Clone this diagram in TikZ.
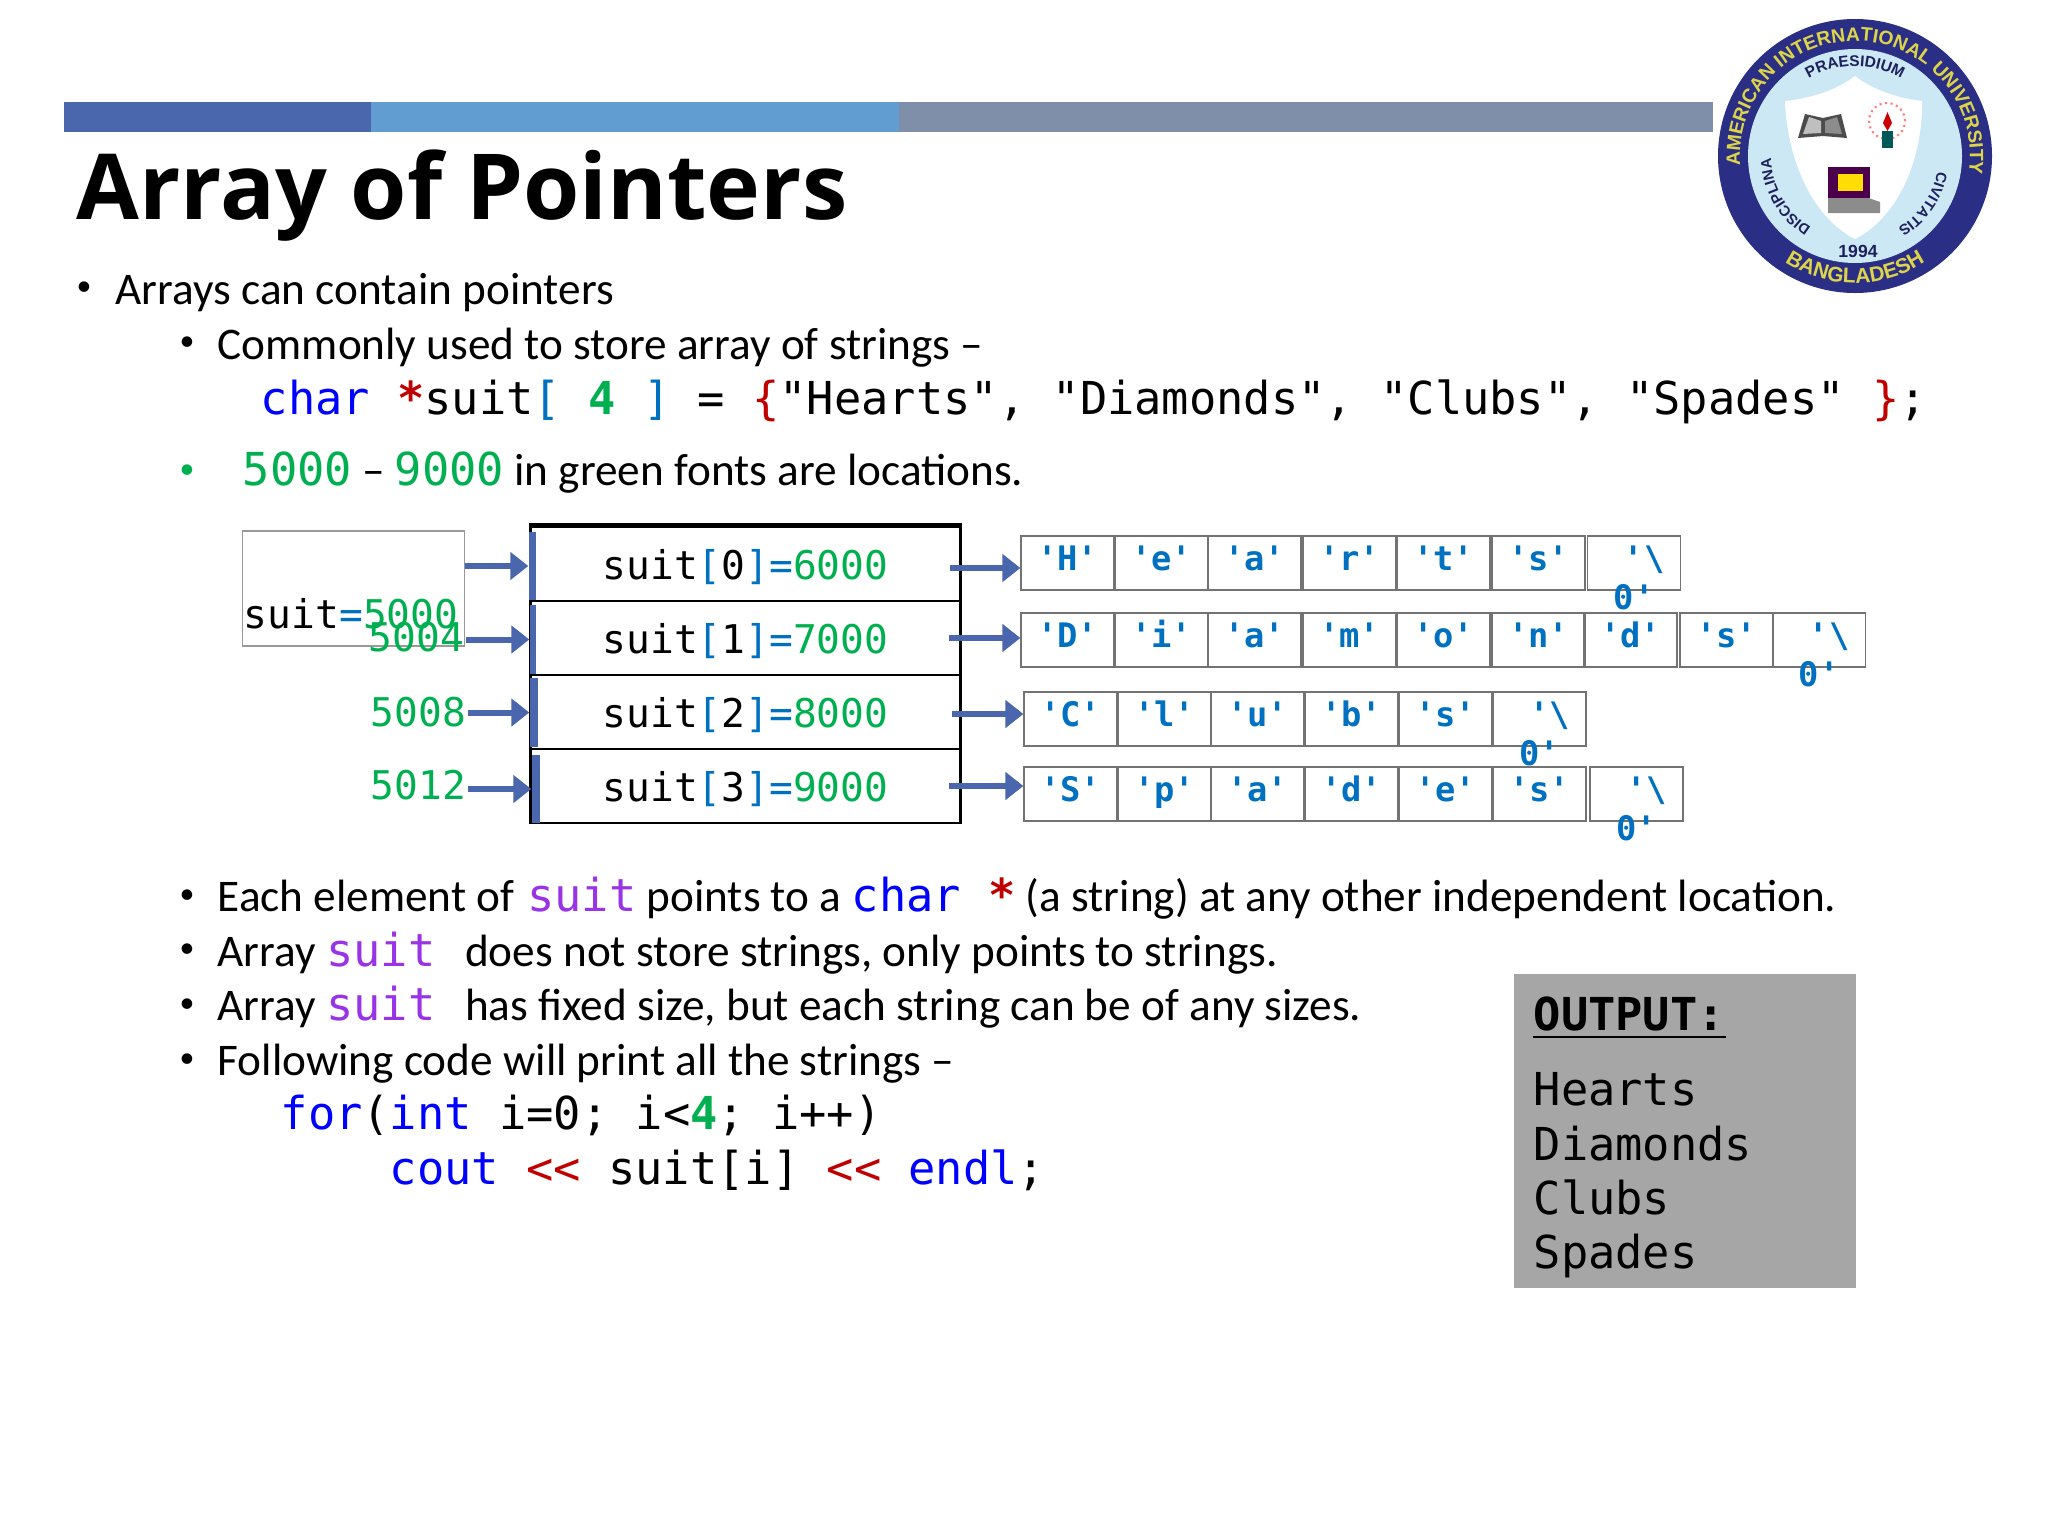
\documentclass[tikz,border=0pt]{standalone}
\usepackage{fontspec}
\setmainfont{Carlito}
\setmonofont{DejaVu Sans Mono}
\newfontfamily\titlefont{Open Sans}
\newfontfamily\sealfont{Liberation Sans}
\usetikzlibrary{arrows.meta,decorations.text}
\definecolor{barone}{HTML}{4A66AC}
\definecolor{bartwo}{HTML}{629DD1}
\definecolor{barthree}{HTML}{7F8FA9}
\definecolor{locgreen}{HTML}{00B050}
\definecolor{brblue}{HTML}{0070C0}
\definecolor{kwblue}{HTML}{0000FF}
\definecolor{opred}{HTML}{C00000}
\definecolor{sparple}{HTML}{9933E6}
\definecolor{sealblue}{HTML}{2A2E85}
\definecolor{sealsky}{HTML}{CCE8F5}
\definecolor{sealgold}{HTML}{DDD44A}
\newcommand{\code}[1]{{\fontsize{12.9}{15}\selectfont\ttfamily #1}}
\newcommand{\loc}[1]{\textcolor{locgreen}{#1}}
\newcommand{\kw}[1]{\textcolor{kwblue}{#1}}
\newcommand{\br}[1]{\textcolor{brblue}{#1}}
\newcommand{\op}[1]{\textcolor{opred}{#1}}
\newcommand{\suitname}{\textcolor{sparple}{suit}}
\newcommand{\nulchar}{\vtop{\baselineskip=11.2pt\hbox to .93cm{\hfil\phantom{x}'\textbackslash\hfil}\hbox to .93cm{\hfil 0'\hfil}}}
\tikzset{
  body/.style={anchor=base west,inner sep=0pt,font=\fontsize{12.87}{15}\selectfont},
  codeline/.style={anchor=base west,inner sep=0pt,font=\fontsize{12.9}{15}\selectfont\ttfamily},
  dot/.style={anchor=base,inner sep=0pt,font=\fontsize{8.5}{10}\selectfont},
  ptr/.style={-{Triangle[length=5.1pt,width=7.7pt]},barone,line width=1.7pt},
  arrcell/.style={draw=black,line width=.8pt,minimum width=4.29cm,minimum height=.74cm,inner sep=0pt,
    text height=11.4pt,text depth=2.85pt,font=\fontsize{11.25}{13}\selectfont\ttfamily},
  addr/.style={anchor=east,inner sep=0pt,inner xsep=.4pt,text=locgreen,font=\fontsize{11.25}{13}\selectfont\ttfamily},
  arrbar/.style={fill=barone,inner sep=0pt},
  charcell/.style={draw=black!55,line width=.35pt,minimum width=.93cm,minimum height=.54cm,inner sep=0pt,
    text height=9.67pt,text depth=5.69pt,text=brblue,font=\fontsize{9.6}{11.2}\selectfont\ttfamily\bfseries},
  sealtext/.style={decorate,decoration={text along path,text align=center,text={#1}}}
}
\begin{document}
\begin{tikzpicture}[x=.01cm,y=-.01cm]
  \useasboundingbox (0,0) rectangle (2048,1536);
  % header bars
  \fill[barone] (64,102) rectangle (371,132);
  \fill[bartwo] (371,102) rectangle (899,132);
  \fill[barthree] (899,102) rectangle (1713,132);
  \node[anchor=base west,inner sep=0pt,font=\fontsize{25.9}{30}\selectfont\titlefont\bfseries] (title) at (76,219) {Array of Pointers};

  % bullets on top
  \node[dot] (d1) at (84,295) {•};
  \node[body] (t1) at (115,304) {Arrays can contain pointers};
  \node[dot] (d2) at (187,350) {•};
  \node[body] (t2) at (217,359) {Commonly used to store array of strings –};
  \node[codeline] (t3) at (260,414) {\kw{char} \op{\textbf{*}}suit\br{[} \loc{\textbf{4}} \br{]} = \op{\{}"Hearts", "Diamonds", "Clubs", "Spades" \op{\}};};
  \node[dot,text=locgreen] (d3) at (187,478) {•};
  \node[body] (t4) at (242,485) {\code{\loc{5000}} – \code{\loc{9000}} in green fonts are locations.};

  % suit and the pointer array
  \node[draw=black!40,line width=.35pt,minimum height=1.15cm,inner sep=0pt,inner xsep=.3pt,text width=2.19cm,align=left,
    text height=27.6pt,text depth=5.1pt,font=\fontsize{11.25}{13}\selectfont\ttfamily] (suitbox) at (353.5,588.5) {suit\br{=}\loc{5000}};
  \node[arrcell] (cell0) at (745.5,564) {suit\br{[}0\br{]=}\loc{6000}};
  \node[arrcell] (cell1) at (745.5,638) {suit\br{[}1\br{]=}\loc{7000}};
  \node[arrcell] (cell2) at (745.5,712) {suit\br{[}2\br{]=}\loc{8000}};
  \node[arrcell] (cell3) at (745.5,786) {suit\br{[}3\br{]=}\loc{9000}};
  \draw[line width=1.3pt] (cell0.north west) -- (cell0.north east);

  \node[arrbar,minimum width=.07cm,minimum height=.68cm] (bar0) at (532.5,566) {};
  \node[arrbar,minimum width=.06cm,minimum height=.68cm] (bar1) at (533,639.5) {};
  \node[arrbar,minimum width=.08cm,minimum height=.69cm] (bar2) at (534,712.5) {};
  \node[arrbar,minimum width=.08cm,minimum height=.68cm] (bar3) at (536,789) {};

  \node[addr] (addr1) at (466,637) {5004};
  \node[addr] (addr2) at (468,712) {5008};
  \node[addr] (addr3) at (468,785) {5012};

  \draw[ptr] (suitbox.east |- bar0.west) -- (bar0.west);
  \draw[ptr] (addr1.east |- bar1.west) -- (bar1.west);
  \draw[ptr] (addr2.east |- bar2.west) -- (bar2.west);
  \draw[ptr] (addr3.east |- bar3.west) -- (bar3.west);

  % the strings
  \foreach \px/\ch [count=\i] in {1021/H,1115/e,1208/a,1303/r,1397/t,1492/s}
    \node[charcell] (h\i) at (\px+46.5,563) {'\ch'};
  \node[charcell] (h7) at (1634,563) {\nulchar};
  \foreach \px/\ch [count=\i] in {1021/D,1115/i,1208/a,1303/m,1397/o,1492/n,1584/d,1680/s}
    \node[charcell] (d\i) at (\px+46.5,640) {'\ch'};
  \node[charcell] (d9) at (1819,640) {\nulchar};
  \foreach \px/\ch [count=\i] in {1024/C,1118/l,1211/u,1305/b,1399/s}
    \node[charcell] (c\i) at (\px+46.5,719) {'\ch'};
  \node[charcell] (c6) at (1539.5,719) {\nulchar};
  \foreach \px/\ch [count=\i] in {1024/S,1118/p,1211/a,1305/d,1399/e,1493/s}
    \node[charcell] (s\i) at (\px+46.5,794) {'\ch'};
  \node[charcell] (s7) at (1636.5,794) {\nulchar};

  \coordinate (out0) at (950,568);
  \coordinate (out1) at (949,638);
  \coordinate (out2) at (952,714);
  \coordinate (out3) at (949,786);
  \draw[ptr] (out0) -- (out0 -| h1.west);
  \draw[ptr] (out1) -- (out1 -| d1.west);
  \draw[ptr] (out2) -- (out2 -| c1.west);
  \draw[ptr] (out3) -- (out3 -| s1.west);

  % bullets below
  \node[dot] (d4) at (187,903) {•};
  \node[body] (t5) at (217,911) {Each element of\hspace{.7pt} \code{\suitname} points to a \code{\kw{char} \op{\textbf{*}}} (a string) at any other independent location.};
  \node[dot] (d5) at (187,957) {•};
  \node[body] (t6) at (217,966) {Array \code{\suitname}\hspace{8.5pt}does not store strings, only points to strings.};
  \node[dot] (d6) at (187,1012) {•};
  \node[body] (t7) at (217,1020) {Array \code{\suitname}\hspace{8.5pt}has fixed size, but each string can be of any sizes.};
  \node[dot] (d7) at (187,1067) {•};
  \node[body] (t8) at (217,1075) {Following code will print all the strings –};
  \node[codeline] (t9) at (280,1129) {\kw{for}(\kw{int} i=0; i<\loc{\textbf{4}}; i++)};
  \node[codeline] (t10) at (389,1184) {\kw{cout} \op{<<} suit[i] \op{<<} \kw{endl};};

  % output box
  \fill[black!35] (1514,974) rectangle (1856,1288);
  \node[codeline] (o0) at (1533,1030) {\textbf{OUTPUT:}};
  \draw[line width=.6pt] ([yshift=-2pt]o0.base west) -- ([yshift=-2pt]o0.base east);
  \node[codeline] (o1) at (1533,1105) {Hearts};
  \node[codeline] (o2) at (1533,1160) {Diamonds};
  \node[codeline] (o3) at (1533,1214) {Clubs};
  \node[codeline] (o4) at (1533,1268) {Spades};

  % seal
  \begin{scope}[shift={(1855,156)},x=.01cm,y=.01cm]
    \fill[sealblue] (0,0) circle (137);
    \fill[sealsky] (0,0) circle (107);
    \fill[white] (0,80) .. controls (-15,68) and (-40,58) .. (-70,55) .. controls (-68,0) and (-45,-60) .. (0,-83)
      .. controls (45,-60) and (68,0) .. (67,55) .. controls (40,58) and (15,68) .. (0,80);
    \path[sealtext={|\fontsize{5.5}{6}\sealfont\bfseries\color{sealgold}|AMERICAN INTERNATIONAL UNIVERSITY}] (186:115) arc (186:-10:115);
    \path[sealtext={|\fontsize{6}{7}\sealfont\bfseries\color{sealgold}|BANGLADESH}] (234:127) arc (234:306:127);
    \path[sealtext={|\fontsize{4.4}{5}\sealfont\bfseries\color{sealblue!70!black}|PRAESIDIUM}] (124:90) arc (124:56:90);
    \path[sealtext={|\fontsize{4.2}{5}\sealfont\bfseries\color{sealblue!70!black}|DISCIPLINA}] (242:84) arc (242:178:84);
    \path[sealtext={|\fontsize{4.2}{5}\sealfont\bfseries\color{sealblue!70!black}|CIVITATIS}] (-6:84) arc (-6:-64:84);
    \node[inner sep=0pt,text=sealblue!70!black,font=\fontsize{5}{6}\sealfont\bfseries] (year) at (3,-95) {1994};
    % book, candle, computer
    \fill[black!70] (-57,18) -- (-50,42) -- (-32,38) -- (-14,42) -- (-8,18) -- (-32,20) -- cycle;
    \fill[black!25] (-52,22) -- (-46,39) -- (-34,35) -- (-34,23) -- cycle;
    \fill[black!45] (-13,22) -- (-18,39) -- (-30,35) -- (-30,23) -- cycle;
    \draw[red!50,densely dotted,line width=.6pt] (32,35) circle (18);
    \fill[teal!70!black] (27,8) rectangle (38,25);
    \fill[red!80!black] (32.5,25) -- (28,33) -- (32.5,44) -- (37,33) -- cycle;
    \fill[black!45] (-27,-57) -- (25,-57) -- (25,-46) -- (8,-40) -- (-27,-40) -- cycle;
    \fill[violet!60!black] (-27,-42) rectangle (15,-11);
    \fill[yellow!80!orange] (-17,-35) rectangle (8,-18);
  \end{scope}
\end{tikzpicture}
\end{document}
